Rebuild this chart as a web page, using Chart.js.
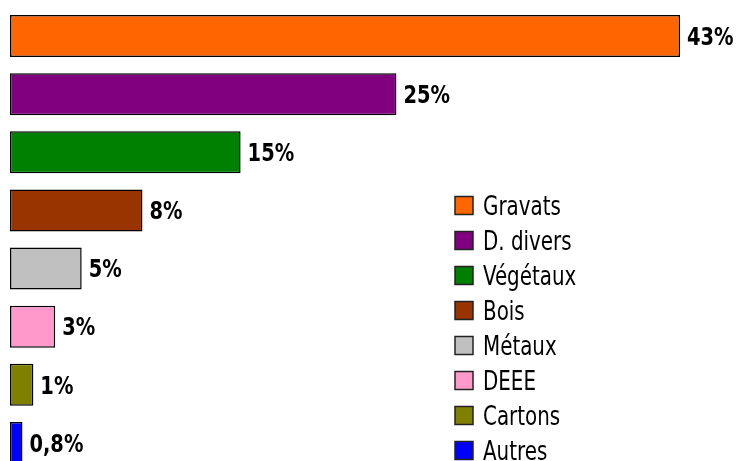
<!DOCTYPE html>
<html>
<head>
<meta charset="utf-8">
<script src="https://cdn.jsdelivr.net/npm/chart.js@4/dist/chart.umd.min.js"></script>
<style>
  html, body { margin: 0; padding: 0; background: #fff; overflow: hidden; }
  #wrap { width: 740px; height: 476px; }
</style>
</head>
<body>
<div id="wrap"><canvas id="chart" width="740" height="476"></canvas></div>
<script>
  var categories = ['Gravats', 'D. divers', 'Végétaux', 'Bois', 'Métaux', 'DEEE', 'Cartons', 'Autres'];
  var values = [43, 24.8, 14.8, 8.5, 4.6, 2.9, 1.5, 0.8];
  var valueLabels = ['43%', '25%', '15%', '8%', '5%', '3%', '1%', '0,8%'];
  var colors = ['#ff6600', '#800080', '#008000', '#993300', '#c0c0c0', '#ff99cc', '#808000', '#0000ff'];

  var fontFamily = '"DejaVu Sans Condensed", "DejaVu Sans", sans-serif';

  // draw text squeezed horizontally, baseline placed so caps are centred on cy
  function squeezedText(ctx, text, x, cy, size, sx) {
    ctx.save();
    ctx.translate(x, cy + size * 0.729 / 2);
    ctx.scale(sx, 1);
    ctx.fillText(text, 0, 0);
    ctx.restore();
  }

  var valueLabelPlugin = {
    id: 'valueLabels',
    afterDatasetsDraw: function (chart) {
      var ctx = chart.ctx;
      var meta = chart.getDatasetMeta(0);
      ctx.save();
      ctx.fillStyle = '#000';
      ctx.font = 'bold 24px ' + fontFamily;
      ctx.textAlign = 'left';
      ctx.textBaseline = 'alphabetic';
      meta.data.forEach(function (bar, i) {
        squeezedText(ctx, valueLabels[i], bar.x + 7, bar.y, 24, 0.9);
      });
      ctx.restore();
    }
  };

  var sideLegendPlugin = {
    id: 'sideLegend',
    afterDraw: function (chart) {
      var ctx = chart.ctx;
      var x = 455, y = 205.5, step = 35, box = 18;
      ctx.save();
      ctx.font = '26px ' + fontFamily;
      ctx.textBaseline = 'alphabetic';
      ctx.textAlign = 'left';
      categories.forEach(function (name, i) {
        var cy = y + i * step;
        ctx.fillStyle = colors[i];
        ctx.fillRect(x, cy - box / 2, box, box);
        ctx.strokeStyle = '#222';
        ctx.lineWidth = 1.5;
        ctx.strokeRect(x, cy - box / 2, box, box);
        ctx.fillStyle = '#000';
        squeezedText(ctx, name, x + box + 10, cy, 26, 0.85);
      });
      ctx.restore();
    }
  };

  new Chart(document.getElementById('chart'), {
    type: 'bar',
    data: {
      labels: categories,
      datasets: [{
        data: values,
        backgroundColor: colors,
        borderColor: '#000',
        borderWidth: 1.5,
        borderSkipped: false,
        barPercentage: 0.724,
        categoryPercentage: 1
      }]
    },
    options: {
      indexAxis: 'y',
      responsive: false,
      animation: false,
      layout: { padding: { left: 10, right: 0, top: 7, bottom: 4 } },
      plugins: {
        legend: { display: false },
        tooltip: { enabled: false }
      },
      scales: {
        x: { display: false, min: 0, max: 46.85 },
        y: { display: false }
      }
    },
    plugins: [valueLabelPlugin, sideLegendPlugin]
  });
</script>
</body>
</html>
